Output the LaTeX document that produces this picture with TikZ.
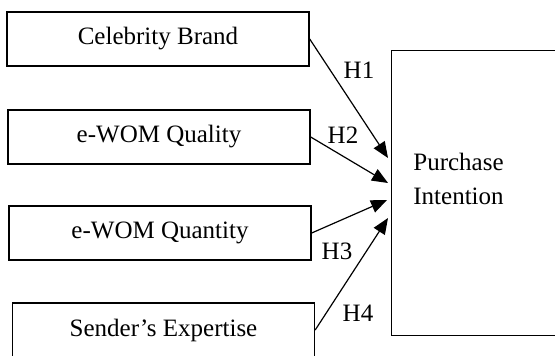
\documentclass[tikz,border=0pt]{standalone}
\usepackage{fontspec}
\setmainfont{Liberation Serif}
\usetikzlibrary{arrows.meta}

\begin{document}
\begin{tikzpicture}[
    x=0.5pt, y=-0.5pt,
    factor/.style={rectangle, draw, line width=0.7pt, minimum width=151pt, minimum height=27pt, inner sep=0pt, font=\fontsize{12.5}{15}\selectfont},
    outcome/.style={rectangle, draw, line width=0.7pt, minimum width=110pt, minimum height=142.5pt, inner sep=0pt},
    hyp/.style={font=\fontsize{12.5}{15}\selectfont, inner sep=0pt},
    path/.style={line width=0.6pt, -{Triangle[length=8pt, width=6.5pt]}}
]
\useasboundingbox (0,0) rectangle (555,356);

\node[factor] (brand) at (158,39) {Celebrity Brand};
\node[factor] (quality) at (159,137) {e-WOM Quality};
\node[factor] (quantity) at (160,233) {e-WOM Quantity};
\node[factor] (expert) at (163.5,330) {Sender’s Expertise};

\node[outcome, anchor=north west] (intent) at (391,50) {};
\node[hyp, align=left, anchor=west] (intenttext) at (413,179) {Purchase\\[2pt]Intention};

% arrow ends just before the outcome box
\coordinate (e1) at (388,158);
\coordinate (e2) at (388,183);
\coordinate (e3) at (387,200);
\coordinate (e4) at (388,218);

\draw[path] (brand.east) -- (e1);
\draw[path] (quality.east) -- (e2);
\draw[path] (quantity.east) -- (e3);
\draw[path] (expert.east) -- (e4);

\node[hyp] (h1) at (359,70) {H1};
\node[hyp] (h2) at (343,135) {H2};
\node[hyp] (h3) at (337,251) {H3};
\node[hyp] (h4) at (358,313) {H4};
\end{tikzpicture}
\end{document}
